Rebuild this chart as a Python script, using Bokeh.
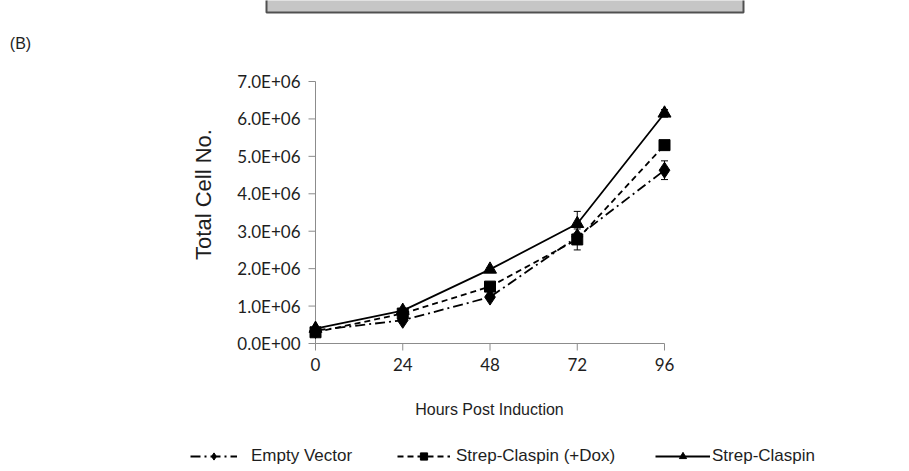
from math import pi
from bokeh.plotting import figure
from bokeh.models import Range1d, Legend, LegendItem, Label, Whisker, ColumnDataSource, TeeHead
from bokeh.embed import file_html
from bokeh.resources import INLINE

# ---- data ----
hours = [0, 24, 48, 72, 96]
empty_vector = [0.35e6, 0.62e6, 1.24e6, 2.85e6, 4.63e6]
empty_vector_err = [0.02e6, 0.04e6, 0.06e6, 0.10e6, 0.25e6]
strep_claspin_dox = [0.30e6, 0.80e6, 1.52e6, 2.78e6, 5.30e6]
strep_claspin_dox_err = [0.02e6, 0.04e6, 0.06e6, 0.28e6, 0.10e6]
strep_claspin = [0.40e6, 0.88e6, 1.98e6, 3.20e6, 6.15e6]
strep_claspin_err = [0.02e6, 0.04e6, 0.05e6, 0.33e6, 0.10e6]
y_ticks = [0, 1e6, 2e6, 3e6, 4e6, 5e6, 6e6, 7e6]
y_tick_labels = ["0.0E+00", "1.0E+06", "2.0E+06", "3.0E+06",
                 "4.0E+06", "5.0E+06", "6.0E+06", "7.0E+06"]
x_ticks = [0, 24, 48, 72, 96]
x_tick_labels = ["0", "24", "48", "72", "96"]
series_names = ["Empty Vector", "Strep-Claspin (+Dox)", "Strep-Claspin"]

# ---- geometry: the frame covers the whole canvas ----
W, H = 909, 471
AX_X, AX_Y = 315, 343          # pixel position of the origin
KX = 349 / 96.0                # px per hour
KY = 262 / 7e6                 # px per cell


def dx(px):   # pixel offset -> data offset (x)
    return px / KX


def dy(px):   # pixel offset -> data offset (y)
    return px / KY


def X(px):    # canvas pixel -> data x
    return (px - AX_X) / KX


def Y(py):    # canvas pixel -> data y
    return (AX_Y - py) / KY


p = figure(width=W, height=H, output_backend="svg", toolbar_location=None,
           x_range=Range1d(X(0), X(W)), y_range=Range1d(Y(H), Y(0)),
           x_axis_location=None, y_axis_location=None,
           min_border=0)
p.outline_line_color = None
p.grid.visible = False
p.background_fill_color = "white"
p.border_fill_color = "white"

axis_col = "#8c8c8c"
txt_col = "#1e1e1e"
tick_font = "Lato"
tick_size = "17px"
tick_len = 7

# ---- the edge of the panel above, cropped at the top ----
p.quad(left=[X(266)], right=[X(743)], top=[Y(-3)], bottom=[Y(12)],
       fill_color="#c6c6c6", line_color="#505050", line_width=2)

# ---- axes drawn from the tick arrays ----
p.segment(x0=[0], y0=[y_ticks[0]], x1=[0], y1=[y_ticks[-1]], line_color=axis_col, line_width=1)
p.segment(x0=[0] * len(y_ticks), y0=y_ticks, x1=[-dx(tick_len)] * len(y_ticks), y1=y_ticks,
          line_color=axis_col, line_width=1)
p.text(x=[-dx(tick_len + 8)] * len(y_ticks), y=y_ticks, text=y_tick_labels,
       text_align="right", text_baseline="middle", text_font={"value": tick_font},
       text_font_size=tick_size, text_color=txt_col)

p.segment(x0=[x_ticks[0]], y0=[0], x1=[x_ticks[-1]], y1=[0], line_color=axis_col, line_width=1)
p.segment(x0=x_ticks, y0=[0] * len(x_ticks), x1=x_ticks, y1=[-dy(tick_len)] * len(x_ticks),
          line_color=axis_col, line_width=1)
p.text(x=x_ticks, y=[-dy(tick_len + 7)] * len(x_ticks), text=x_tick_labels,
       text_align="center", text_baseline="top", text_font={"value": tick_font},
       text_font_size=tick_size, text_color=txt_col)

# ---- series ----
specs = [
    (empty_vector, empty_vector_err, "10 4 2 4", "diamond", 16),
    (strep_claspin_dox, strep_claspin_dox_err, "6 4", "square", 11),
    (strep_claspin, strep_claspin_err, "solid", "triangle", 13),
]
items = []
for (vals, errs, dash, marker, size), name in zip(specs, series_names):
    src = ColumnDataSource(dict(x=hours, y=vals,
                                lo=[v - e for v, e in zip(vals, errs)],
                                hi=[v + e for v, e in zip(vals, errs)]))
    ln = p.line("x", "y", source=src, line_color="black", line_width=1.8, line_dash=dash)
    sc = p.scatter("x", "y", source=src, marker=marker, size=size,
                   fill_color="black", line_color="black")
    wk = Whisker(source=src, base="x", upper="hi", lower="lo",
                 line_color="black", line_width=1,
                 upper_head=TeeHead(size=7, line_color="black", line_width=1),
                 lower_head=TeeHead(size=7, line_color="black", line_width=1))
    p.add_layout(wk)
    items.append((name, ln, sc))

# ---- legends (one per item, along the bottom) ----
leg_left = [190, 397, 655]
glyph_w = [47, 53, 55]
standoffs = [14, 6, 2]
for (name, ln, sc), lx, gw, so in zip(items, leg_left, glyph_w, standoffs):
    lg = Legend(items=[LegendItem(label=name, renderers=[ln, sc])],
                location=(lx, 471 - 466), orientation="horizontal",
                glyph_width=gw, glyph_height=18, label_standoff=so,
                label_text_font="Liberation Sans", label_text_font_size="17px",
                label_text_color=txt_col, label_height=18,
                border_line_color=None, background_fill_alpha=0,
                padding=0, margin=0, spacing=0)
    p.add_layout(lg)

# ---- titles ----
p.add_layout(Label(x=X(203), y=Y(194), text="Total Cell No.", angle=pi / 2,
                   text_align="center", text_baseline="middle",
                   text_font="Liberation Sans", text_font_size="22px", text_color=txt_col))
p.add_layout(Label(x=X(489), y=Y(409), text="Hours Post Induction",
                   text_align="center", text_baseline="middle",
                   text_font="Liberation Sans", text_font_size="16px", text_color=txt_col))
p.add_layout(Label(x=X(20), y=Y(43), text="(B)",
                   text_align="center", text_baseline="middle",
                   text_font="Liberation Sans", text_font_size="16px", text_color=txt_col))

open("out.html", "w").write(file_html(p, INLINE))
